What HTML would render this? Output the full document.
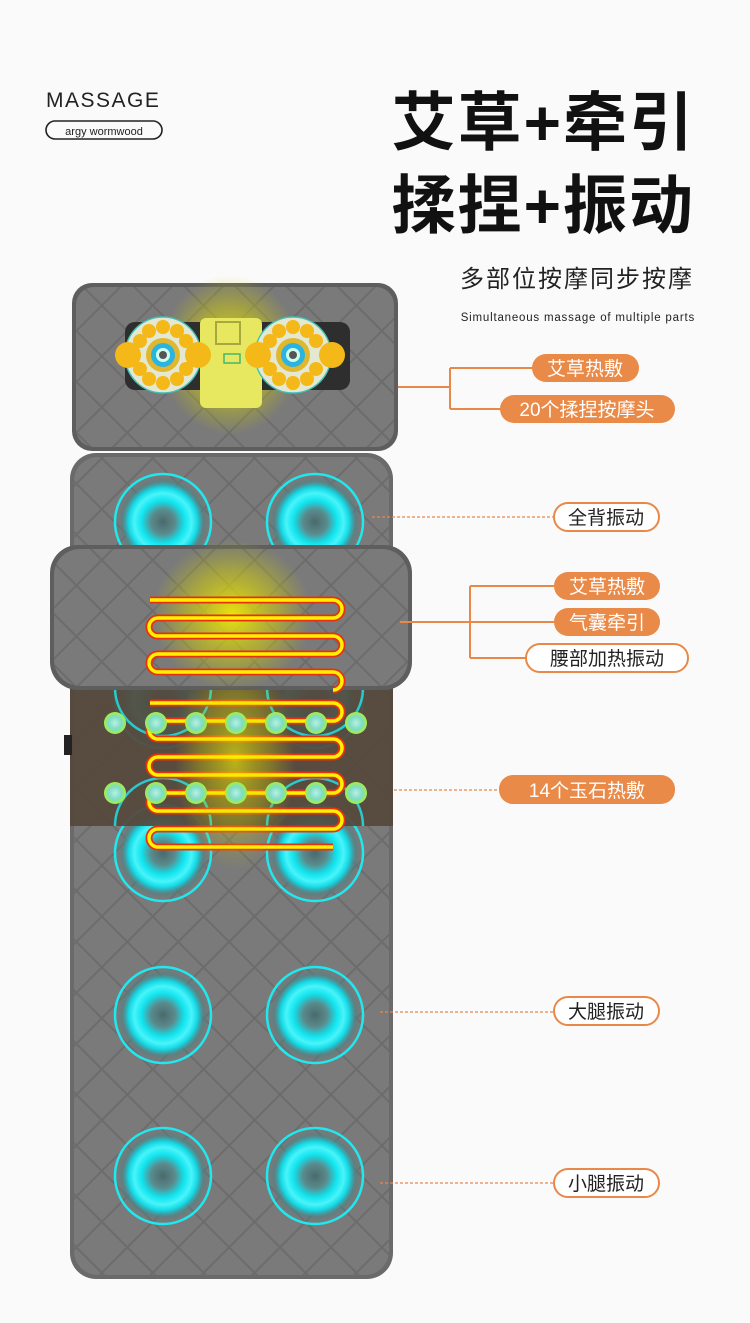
<!DOCTYPE html>
<html><head><meta charset="utf-8"><style>
html,body{margin:0;padding:0;background:#fafafa;}
svg{display:block}
.cn{font-family:"Liberation Sans","Noto Sans CJK SC",sans-serif;}
</style></head><body>
<svg width="750" height="1323" viewBox="0 0 750 1323" xmlns="http://www.w3.org/2000/svg" class="cn">
<defs>
<pattern id="q" width="36" height="36" patternUnits="userSpaceOnUse" patternTransform="rotate(45)">
<rect width="36" height="36" fill="#6c6c6c"/>
<rect x="1" y="1" width="34" height="34" fill="#7a7a7a"/>
</pattern>
<radialGradient id="glow" cx="50%" cy="50%" r="50%">
<stop offset="0" stop-color="#f6f000" stop-opacity="0.9"/>
<stop offset="0.6" stop-color="#d8d400" stop-opacity="0.45"/>
<stop offset="1" stop-color="#c8c800" stop-opacity="0"/>
</radialGradient>
<radialGradient id="vib" cx="50%" cy="50%" r="50%">
<stop offset="0" stop-color="#4a6a6c"/>
<stop offset="0.25" stop-color="#5b8a8c"/>
<stop offset="0.45" stop-color="#10e4ee"/>
<stop offset="0.6" stop-color="#4af4fa"/>
<stop offset="0.72" stop-color="#12d8e4"/>
<stop offset="0.85" stop-color="#4a8488" stop-opacity="0.6"/>
<stop offset="1" stop-color="#777" stop-opacity="0"/>
</radialGradient>
<radialGradient id="jade" cx="50%" cy="50%" r="50%">
<stop offset="0" stop-color="#b8f0e0"/>
<stop offset="0.6" stop-color="#7cdcc4"/>
<stop offset="1" stop-color="#a8f040"/>
</radialGradient>
<g id="vc">
<circle r="48" fill="url(#vib)"/>
<circle r="48" fill="none" stroke="#1ee8f0" stroke-width="2.5"/>
</g>
</defs>

<!-- header -->
<text x="46" y="107" font-size="21" letter-spacing="1.5" fill="#222">MASSAGE</text>
<rect x="46" y="121" width="116" height="18" rx="9" fill="none" stroke="#222" stroke-width="1.6"/>
<text x="104" y="135" font-size="11" text-anchor="middle" fill="#222">argy wormwood</text>
<text x="695" y="145" font-size="64" text-anchor="end" fill="#111" font-weight="bold" letter-spacing="2">艾草+牵引</text>
<text x="695" y="228" font-size="64" text-anchor="end" fill="#111" font-weight="bold" letter-spacing="2">揉捏+振动</text>
<text x="694" y="287" font-size="24" text-anchor="end" fill="#222" letter-spacing="2">多部位按摩同步按摩</text>
<text x="695" y="321" font-size="11.5" text-anchor="end" fill="#222" letter-spacing="0.8">Simultaneous massage of multiple parts</text>

<!-- main body mat -->
<rect x="70" y="453" width="323" height="826" rx="26" fill="#6a6a6a"/>
<rect x="74" y="457" width="315" height="818" rx="24" fill="url(#q)"/>
<!-- head pillow -->
<rect x="72" y="283" width="326" height="168" rx="20" fill="#5e5e5e"/>
<rect x="76" y="287" width="318" height="160" rx="18" fill="url(#q)"/>
<ellipse cx="230" cy="355" rx="70" ry="80" fill="url(#glow)"/>
<rect x="125" y="322" width="225" height="68" rx="10" fill="#2e2e2e"/>
<rect x="200" y="318" width="62" height="90" rx="6" fill="#e8e860"/>
<g>
<circle cx="163" cy="355" r="38" fill="#e4e8d0" stroke="#40c0b8" stroke-width="1.5"/>
<circle cx="293" cy="355" r="38" fill="#e4e8d0" stroke="#40c0b8" stroke-width="1.5"/>
<g fill="#f4b818">
<circle cx="163" cy="327" r="7"/><circle cx="163" cy="383" r="7"/><circle cx="149" cy="331" r="7"/><circle cx="177" cy="331" r="7"/><circle cx="149" cy="379" r="7"/><circle cx="177" cy="379" r="7"/><circle cx="140" cy="341" r="7"/><circle cx="186" cy="341" r="7"/><circle cx="140" cy="369" r="7"/><circle cx="186" cy="369" r="7"/>
<circle cx="293" cy="327" r="7"/><circle cx="293" cy="383" r="7"/><circle cx="279" cy="331" r="7"/><circle cx="307" cy="331" r="7"/><circle cx="279" cy="379" r="7"/><circle cx="307" cy="379" r="7"/><circle cx="270" cy="341" r="7"/><circle cx="316" cy="341" r="7"/><circle cx="270" cy="369" r="7"/><circle cx="316" cy="369" r="7"/>
<circle cx="128" cy="355" r="13"/><circle cx="198" cy="355" r="13"/><circle cx="258" cy="355" r="13"/><circle cx="332" cy="355" r="13"/>
</g>
<circle cx="163" cy="355" r="17" fill="#e0b830"/><circle cx="163" cy="355" r="12" fill="#2cb4e0"/><circle cx="163" cy="355" r="7" fill="#cfe"/><circle cx="163" cy="355" r="4" fill="#555"/>
<circle cx="293" cy="355" r="17" fill="#e0b830"/><circle cx="293" cy="355" r="12" fill="#2cb4e0"/><circle cx="293" cy="355" r="7" fill="#cfe"/><circle cx="293" cy="355" r="4" fill="#555"/>
<rect x="216" y="322" width="24" height="22" fill="none" stroke="#a8a840" stroke-width="2"/>
<rect x="224" y="354" width="16" height="9" fill="none" stroke="#40b870" stroke-width="1.5"/>
</g>

<!-- vibration circles -->
<use href="#vc" x="163" y="522"/><use href="#vc" x="315" y="522"/>
<use href="#vc" x="163" y="700"/><use href="#vc" x="315" y="700"/>
<use href="#vc" x="163" y="853"/><use href="#vc" x="315" y="853"/>
<use href="#vc" x="163" y="1015"/><use href="#vc" x="315" y="1015"/>
<use href="#vc" x="163" y="1176"/><use href="#vc" x="315" y="1176"/>

<!-- brown band -->
<rect x="70" y="688" width="323" height="138" fill="#55483c" opacity="0.93"/>
<rect x="64" y="735" width="8" height="20" fill="#222"/>
<g fill="none" stroke="#1ee8f0" stroke-width="2.5" opacity="0.8">
<path d="M115 688 A48 48 0 0 0 211 688"/><path d="M267 688 A48 48 0 0 0 363 688"/>
<path d="M115 826 A48 48 0 0 1 211 826"/><path d="M267 826 A48 48 0 0 1 363 826"/>
</g>
<!-- heater lower -->
<path d="M150 703 H333 a9 9 0 0 1 0 18 H158 a9 9 0 0 0 0 18 H333 a9 9 0 0 1 0 18 H158 a9 9 0 0 0 0 18 H333 a9 9 0 0 1 0 18 H158 a9 9 0 0 0 0 18 H333 a9 9 0 0 1 0 18 H158 a9 9 0 0 0 0 18 H333" fill="none" stroke="#e83010" stroke-width="7"/>
<path d="M150 703 H333 a9 9 0 0 1 0 18 H158 a9 9 0 0 0 0 18 H333 a9 9 0 0 1 0 18 H158 a9 9 0 0 0 0 18 H333 a9 9 0 0 1 0 18 H158 a9 9 0 0 0 0 18 H333 a9 9 0 0 1 0 18 H158 a9 9 0 0 0 0 18 H333" fill="none" stroke="#fff200" stroke-width="3.5"/>
<ellipse cx="235" cy="760" rx="60" ry="110" fill="url(#glow)" opacity="0.7"/>
<g>
<circle cx="115" cy="723" r="11" fill="url(#jade)"/><circle cx="156" cy="723" r="11" fill="url(#jade)"/><circle cx="196" cy="723" r="11" fill="url(#jade)"/><circle cx="236" cy="723" r="11" fill="url(#jade)"/><circle cx="276" cy="723" r="11" fill="url(#jade)"/><circle cx="316" cy="723" r="11" fill="url(#jade)"/><circle cx="356" cy="723" r="11" fill="url(#jade)"/>
<circle cx="115" cy="793" r="11" fill="url(#jade)"/><circle cx="156" cy="793" r="11" fill="url(#jade)"/><circle cx="196" cy="793" r="11" fill="url(#jade)"/><circle cx="236" cy="793" r="11" fill="url(#jade)"/><circle cx="276" cy="793" r="11" fill="url(#jade)"/><circle cx="316" cy="793" r="11" fill="url(#jade)"/><circle cx="356" cy="793" r="11" fill="url(#jade)"/>
</g>

<!-- waist pillow -->
<rect x="50" y="545" width="362" height="145" rx="28" fill="#5e5e5e"/>
<rect x="54" y="549" width="354" height="137" rx="26" fill="url(#q)"/>
<ellipse cx="232" cy="615" rx="80" ry="75" fill="url(#glow)"/>
<path d="M150 600 H333 a9 9 0 0 1 0 18 H158 a9 9 0 0 0 0 18 H333 a9 9 0 0 1 0 18 H158 a9 9 0 0 0 0 18 H333 a9 9 0 0 1 0 18" fill="none" stroke="#e83010" stroke-width="7"/>
<path d="M150 600 H333 a9 9 0 0 1 0 18 H158 a9 9 0 0 0 0 18 H333 a9 9 0 0 1 0 18 H158 a9 9 0 0 0 0 18 H333 a9 9 0 0 1 0 18" fill="none" stroke="#fff200" stroke-width="3.5"/>

<!-- connectors -->
<g stroke="#e8894a" stroke-width="2" fill="none">
<path d="M398 387 H450 M450 368 V409 M450 368 H535 M450 409 H502"/>
<path d="M400 622 H470 M470 586 V658 M470 586 H555 M470 622 H555 M470 658 H527"/>
</g>
<g stroke="#e8894a" stroke-width="1.3" fill="none" stroke-dasharray="3 2">
<path d="M372 517 H553"/><path d="M394 790 H499"/><path d="M380 1012 H553"/><path d="M380 1183 H553"/>
</g>

<!-- labels -->
<g font-size="19" text-anchor="middle">
<rect x="532" y="354" width="107" height="28" rx="14" fill="#ea8a48"/><text x="585" y="375" fill="#fff">艾草热敷</text>
<rect x="500" y="395" width="175" height="28" rx="14" fill="#ea8a48"/><text x="587" y="416" fill="#fff">20个揉捏按摩头</text>
<rect x="554" y="503" width="105" height="28" rx="14" fill="#fff" stroke="#e8894a" stroke-width="2"/><text x="606" y="524" fill="#222">全背振动</text>
<rect x="554" y="572" width="106" height="28" rx="14" fill="#ea8a48"/><text x="607" y="593" fill="#fff">艾草热敷</text>
<rect x="554" y="608" width="106" height="28" rx="14" fill="#ea8a48"/><text x="607" y="629" fill="#fff">气囊牵引</text>
<rect x="526" y="644" width="162" height="28" rx="14" fill="#fff" stroke="#e8894a" stroke-width="2"/><text x="607" y="665" fill="#222">腰部加热振动</text>
<rect x="499" y="775" width="176" height="29" rx="14" fill="#ea8a48"/><text x="587" y="797" fill="#fff">14个玉石热敷</text>
<rect x="554" y="997" width="105" height="28" rx="14" fill="#fff" stroke="#e8894a" stroke-width="2"/><text x="606" y="1018" fill="#222">大腿振动</text>
<rect x="554" y="1169" width="105" height="28" rx="14" fill="#fff" stroke="#e8894a" stroke-width="2"/><text x="606" y="1190" fill="#222">小腿振动</text>
</g>
</svg>
</body></html>
